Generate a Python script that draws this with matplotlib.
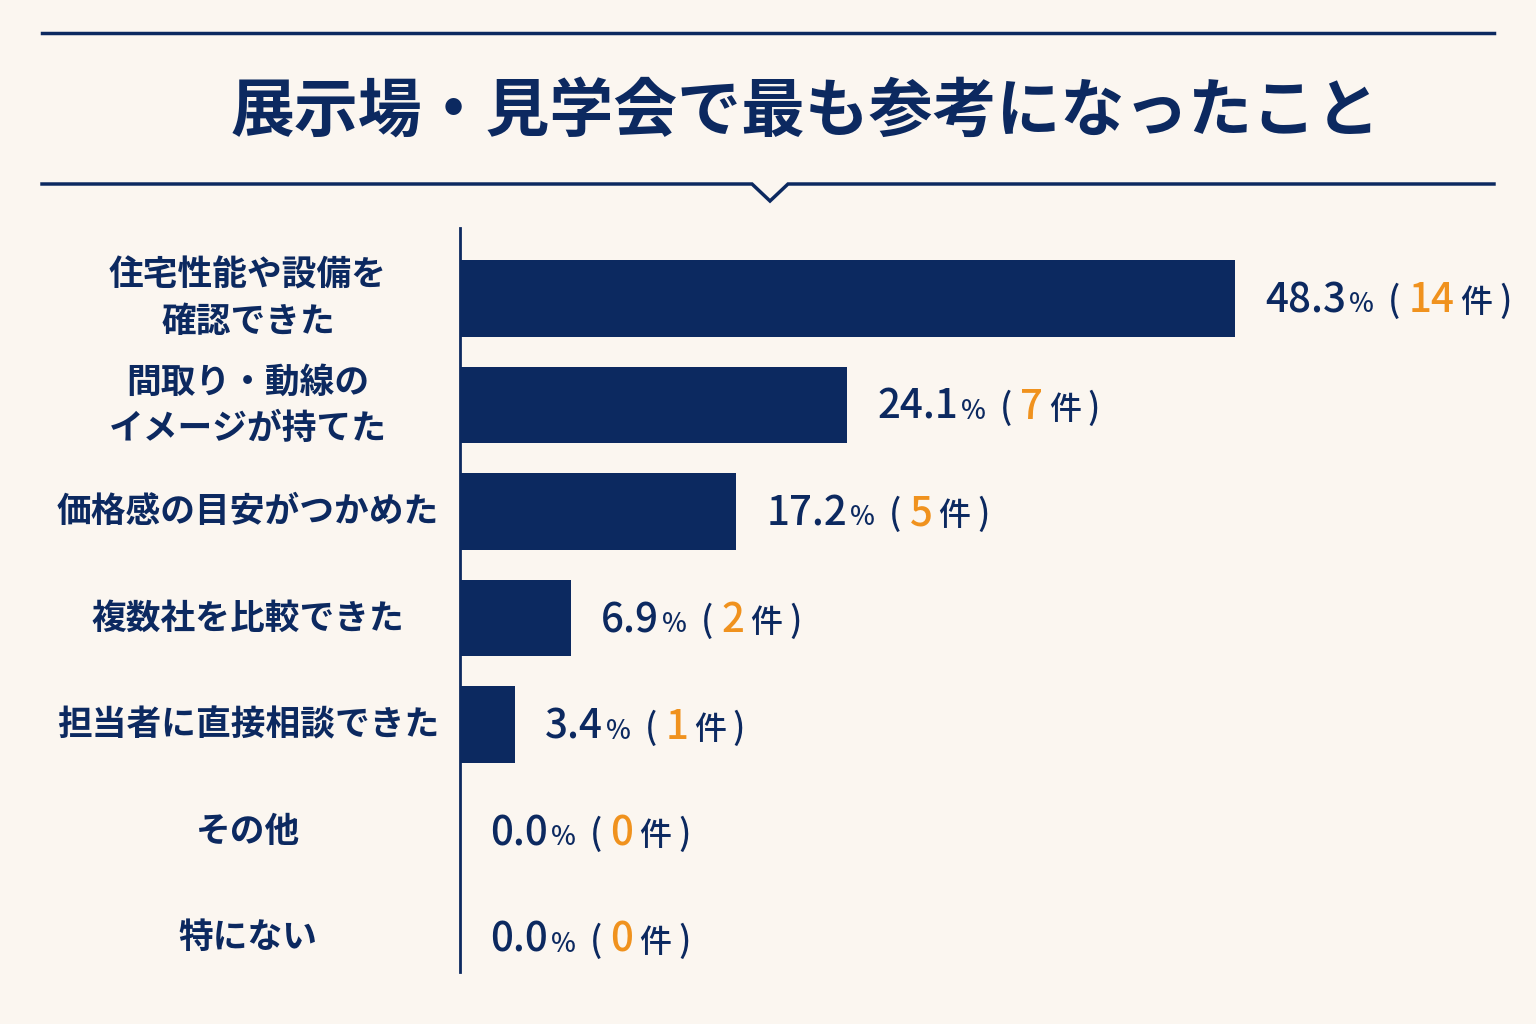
import matplotlib.pyplot as plt
from matplotlib.lines import Line2D
from matplotlib import transforms

plt.rcParams['font.family'] = ['Noto Sans CJK JP', 'DejaVu Sans']

# data
title = "展示場・見学会で最も参考になったこと"
categories = [
    "住宅性能や設備を\n確認できた",
    "間取り・動線の\nイメージが持てた",
    "価格感の目安がつかめた",
    "複数社を比較できた",
    "担当者に直接相談できた",
    "その他",
    "特にない",
]
percents = [48.3, 24.1, 17.2, 6.9, 3.4, 0.0, 0.0]
counts = [14, 7, 5, 2, 1, 0, 0]

navy = '#0c2960'
orange = '#f0921e'
bg = '#fbf6f0'

W, H = 1536, 1024
fig = plt.figure(figsize=(W / 100, H / 100), dpi=100, facecolor=bg)


def fx(px):
    return px / W


def fy(py):
    return 1 - py / H


# title block: two rules, lower one with a small chevron
fig.add_artist(Line2D([fx(42), fx(1494)], [fy(33), fy(33)], color=navy, lw=2.5))
fig.add_artist(Line2D([fx(42), fx(752), fx(770), fx(788), fx(1494)],
                      [fy(184), fy(184), fy(201), fy(184), fy(184)],
                      color=navy, lw=2.5, solid_joinstyle='miter'))
fig.text(fx(805), fy(112), title, ha='center', va='center', fontsize=46,
         fontweight='bold', color=navy)

# bar area
ax = fig.add_axes([fx(460), fy(972), fx(W - 460), (972 - 228) / H])
ax.set_facecolor('none')
ypos = list(range(len(categories)))
ax.barh(ypos, percents, height=0.72, color=navy)
ax.set_xlim(0, max(percents) * (W - 460) / 775)
ax.set_ylim(6.32, -0.66)
for s in ['top', 'right', 'bottom']:
    ax.spines[s].set_visible(False)
ax.spines['left'].set_color(navy)
ax.spines['left'].set_linewidth(2)
ax.set_xticks([])
ax.set_yticks([])

# category labels, centred in the left margin
lab_tr = transforms.blended_transform_factory(fig.transFigure, ax.transData)
for yi, cat in zip(ypos, categories):
    ax.text(fx(248), yi, cat, transform=lab_tr, ha='center', va='center',
            multialignment='center', fontsize=25, fontweight='bold',
            color=navy, linespacing=1.4)

# value labels: "48.3%(14件)" built from pieces
for yi, p, c in zip(ypos, percents, counts):
    pieces = [
        (f"{p:.1f}", 29, navy, 0),
        ("%", 19, navy, 2),
        ("(", 25, navy, 10),
        (str(c), 29, orange, 6),
        ("件", 23, navy, 4),
        (")", 25, navy, 5),
    ]
    prev = None
    for txt, size, col, gap in pieces:
        if prev is None:
            prev = ax.annotate(txt, xy=(p, yi), xycoords='data',
                               xytext=(22, -10), textcoords='offset points',
                               ha='left', va='baseline', fontsize=size,
                               fontweight='medium', color=col)
        else:
            prev = ax.annotate(txt, xy=(1, yi), xycoords=(prev, 'data'),
                               xytext=(gap, -10), textcoords='offset points',
                               ha='left', va='baseline', fontsize=size,
                               fontweight='medium', color=col)

fig.savefig('out.png', dpi=100, facecolor=bg)
